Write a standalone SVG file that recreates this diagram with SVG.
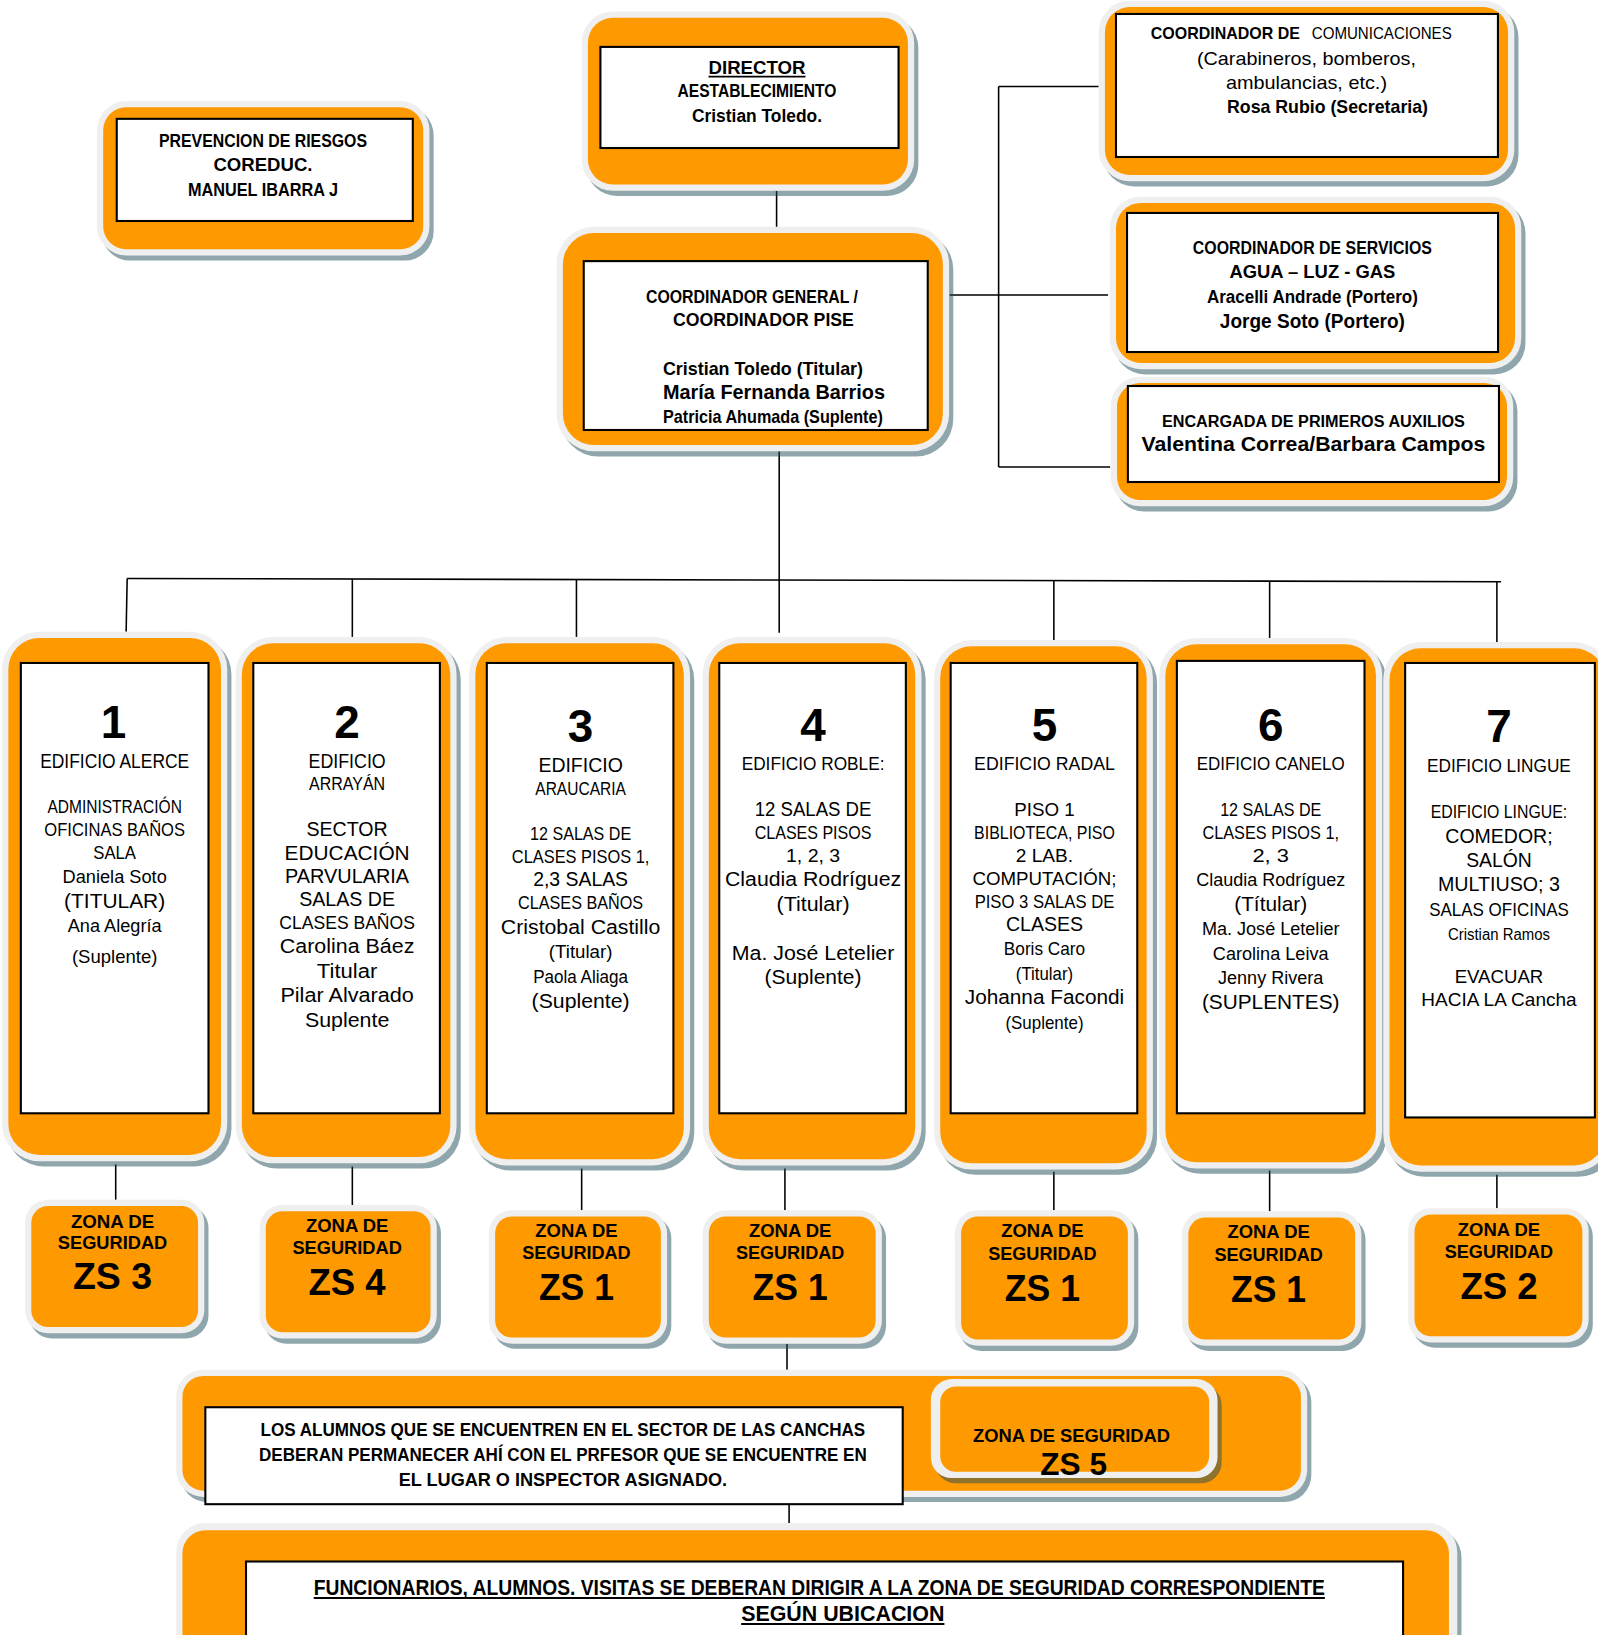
<svg xmlns="http://www.w3.org/2000/svg" width="1598" height="1635" viewBox="0 0 1598 1635">
<defs>
<style>
.sh{fill:#1f4e5a;opacity:.5}
.rim{fill:#efefef}
.or{fill:#ff9900}
.wb{fill:#fff;stroke:#000;stroke-width:2}
.ln{stroke:#000;stroke-width:1.5;fill:none}
.ul{stroke:#000;stroke-width:1.8}
text{font-family:"Liberation Sans",Arial,sans-serif;fill:#000}
.b{font-weight:bold}
.c{text-anchor:middle}
.num{font-weight:bold;font-size:44px;text-anchor:middle}
.zs1{font-weight:bold;font-size:18px;text-anchor:middle}
.zs2{font-weight:bold;font-size:36px;text-anchor:middle}
</style>
</defs>
<rect width="1598" height="1635" fill="#fff"/>
<g transform="scale(1.0424)">
<g id="connectors">
<path class="ln" d="M745 183V224"/>
<path class="ln" d="M747.5 433V607"/>
<path class="ln" d="M911 283H1063"/>
<path class="ln" d="M958 83V448"/>
<path class="ln" d="M958 83H1054"/>
<path class="ln" d="M958 448H1065"/>
<path class="ln" d="M122 555L1440 558"/>
<path class="ln" d="M122 555L121 606"/>
<path class="ln" d="M338 555.5V611"/>
<path class="ln" d="M553 556V611"/>
<path class="ln" d="M1011 557V614"/>
<path class="ln" d="M1218 557.5V613"/>
<path class="ln" d="M1436 558V616"/>
<path class="ln" d="M111 1117V1151"/>
<path class="ln" d="M338 1119V1156"/>
<path class="ln" d="M558 1121V1161"/>
<path class="ln" d="M753 1121V1161"/>
<path class="ln" d="M1011 1124V1161"/>
<path class="ln" d="M1218 1123V1162"/>
<path class="ln" d="M1436 1127V1159"/>
<path class="ln" d="M755 1289V1314"/>
<path class="ln" d="M757 1443V1468"/>
</g>

<g id="prevencion">
<rect class="sh" x="97" y="102" width="319" height="148" rx="28"/>
<rect class="rim" x="93" y="97" width="319" height="148" rx="28"/>
<rect class="or" x="99" y="103" width="307" height="136" rx="22"/>
<rect class="wb" x="112" y="114" width="284" height="98"/>
<text class="b c" x="252.3" y="141" font-size="17" textLength="199.5" lengthAdjust="spacingAndGlyphs">PREVENCION DE RIESGOS</text>
<text class="b c" x="252.3" y="164" font-size="17" textLength="95" lengthAdjust="spacingAndGlyphs">COREDUC.</text>
<text class="b c" x="252.3" y="188" font-size="17" textLength="143.9" lengthAdjust="spacingAndGlyphs">MANUEL IBARRA J</text>
</g>

<g id="director">
<rect class="sh" x="562" y="16" width="319" height="172" rx="30"/>
<rect class="rim" x="558" y="11" width="319" height="172" rx="30"/>
<rect class="or" x="564" y="17" width="307" height="160" rx="24"/>
<rect class="wb" x="576" y="45" width="286" height="97"/>
<text class="b c" x="726.2" y="71" font-size="18" textLength="93" lengthAdjust="spacingAndGlyphs">DIRECTOR</text>
<line class="ul" x1="679.7" y1="73.5" x2="772.7" y2="73.5"/>
<text class="b c" x="726.2" y="93" font-size="18" textLength="152.5" lengthAdjust="spacingAndGlyphs">AESTABLECIMIENTO</text>
<text class="b c" x="726.2" y="117" font-size="18" textLength="124.7" lengthAdjust="spacingAndGlyphs">Cristian Toledo.</text>
</g>

<g id="coordinador-general">
<rect class="sh" x="538" y="222.5" width="376.5" height="215.5" rx="36"/>
<rect class="rim" x="534" y="217.5" width="376.5" height="215.5" rx="36"/>
<rect class="or" x="540" y="223.5" width="364.5" height="203.5" rx="30"/>
<rect class="wb" x="560" y="250.5" width="330" height="162"/>
<text class="b" x="619.7" y="290.7" font-size="18.5" textLength="203.4" lengthAdjust="spacingAndGlyphs">COORDINADOR GENERAL /</text>
<text class="b" x="645.6" y="312.7" font-size="18.5" textLength="173.6" lengthAdjust="spacingAndGlyphs">COORDINADOR PISE</text>
<text class="b" x="636" y="359.7" font-size="18.5" textLength="191.9" lengthAdjust="spacingAndGlyphs">Cristian Toledo (Titular)</text>
<text class="b" x="636" y="382.8" font-size="19.5" textLength="213" lengthAdjust="spacingAndGlyphs">María Fernanda Barrios</text>
<text class="b" x="636" y="405.8" font-size="17" textLength="211" lengthAdjust="spacingAndGlyphs">Patricia Ahumada  (Suplente)</text>
</g>

<g id="comunicaciones">
<rect class="sh" x="1058" y="5.7" width="398.7" height="173.2" rx="30"/>
<rect class="rim" x="1054" y="0.7" width="398.7" height="173.2" rx="30"/>
<rect class="or" x="1060" y="6.7" width="386.7" height="161.2" rx="24"/>
<rect class="wb" x="1070.6" y="13.4" width="366.4" height="137.2"/>
<text class="b" x="1104" y="37.4" font-size="16" textLength="143.1" lengthAdjust="spacingAndGlyphs">COORDINADOR DE</text>
<text x="1258.4" y="37.4" font-size="16" textLength="134.3" lengthAdjust="spacingAndGlyphs">COMUNICACIONES</text>
<text x="1148.3" y="62.4" font-size="17" textLength="210" lengthAdjust="spacingAndGlyphs">(Carabineros, bomberos,</text>
<text x="1176.1" y="85.4" font-size="17" textLength="154.5" lengthAdjust="spacingAndGlyphs">ambulancias, etc.)</text>
<text class="b" x="1177.1" y="108.4" font-size="17" textLength="192.8" lengthAdjust="spacingAndGlyphs">Rosa Rubio (Secretaria)</text>
</g>

<g id="servicios">
<rect class="sh" x="1068.6" y="193.7" width="394.8" height="165.5" rx="30"/>
<rect class="rim" x="1064.6" y="188.7" width="394.8" height="165.5" rx="30"/>
<rect class="or" x="1070.6" y="194.7" width="382.8" height="153.5" rx="24"/>
<rect class="wb" x="1081.2" y="204.3" width="355.9" height="133.4"/>
<text class="b c" x="1259" y="243.7" font-size="17" textLength="229.3" lengthAdjust="spacingAndGlyphs">COORDINADOR DE SERVICIOS</text>
<text class="b c" x="1259" y="266.7" font-size="18.5" textLength="159.2" lengthAdjust="spacingAndGlyphs">AGUA – LUZ - GAS</text>
<text class="b c" x="1259" y="290.7" font-size="18" textLength="202.4" lengthAdjust="spacingAndGlyphs">Aracelli Andrade (Portero)</text>
<text class="b c" x="1259" y="314.7" font-size="19" textLength="177.5" lengthAdjust="spacingAndGlyphs">Jorge Soto (Portero)</text>
</g>

<g id="primeros-auxilios">
<rect class="sh" x="1069.6" y="366.4" width="386.1" height="124.3" rx="28"/>
<rect class="rim" x="1065.6" y="361.4" width="386.1" height="124.3" rx="28"/>
<rect class="or" x="1071.6" y="367.4" width="374.1" height="112.3" rx="22"/>
<rect class="wb" x="1082" y="370.3" width="356" height="92.1"/>
<text class="b c" x="1260" y="409.6" font-size="16.5" textLength="290.7" lengthAdjust="spacingAndGlyphs">ENCARGADA DE PRIMEROS AUXILIOS</text>
<text class="b c" x="1260" y="432.7" font-size="19" textLength="330" lengthAdjust="spacingAndGlyphs">Valentina Correa/Barbara Campos</text>
</g>

<g id="edificio-1">
<rect class="sh" x="6" y="611" width="216" height="508" rx="36"/>
<rect class="rim" x="2" y="606" width="216" height="508" rx="36"/>
<rect class="or" x="8" y="612" width="204" height="496" rx="30"/>
<rect class="wb" x="20" y="636" width="180" height="432"/>
<text class="num" x="109" y="708">1</text>
<text class="c" x="110" y="737" font-size="19" textLength="143" lengthAdjust="spacingAndGlyphs">EDIFICIO ALERCE</text>
<text class="c" x="110" y="780" font-size="17" textLength="129" lengthAdjust="spacingAndGlyphs">ADMINISTRACIÓN</text>
<text class="c" x="110" y="802" font-size="17" textLength="135" lengthAdjust="spacingAndGlyphs">OFICINAS BAÑOS</text>
<text class="c" x="110" y="824" font-size="17" textLength="41" lengthAdjust="spacingAndGlyphs">SALA</text>
<text class="c" x="110" y="847" font-size="18" textLength="100" lengthAdjust="spacingAndGlyphs">Daniela Soto</text>
<text class="c" x="110" y="871" font-size="20" textLength="97" lengthAdjust="spacingAndGlyphs">(TITULAR)</text>
<text class="c" x="110" y="894" font-size="18" textLength="90" lengthAdjust="spacingAndGlyphs">Ana Alegría</text>
<text class="c" x="110" y="924" font-size="17" textLength="82" lengthAdjust="spacingAndGlyphs">(Suplente)</text>
</g>

<g id="edificio-2">
<rect class="sh" x="230" y="616" width="212" height="505" rx="36"/>
<rect class="rim" x="226" y="611" width="212" height="505" rx="36"/>
<rect class="or" x="232" y="617" width="200" height="493" rx="30"/>
<rect class="wb" x="243" y="636" width="179" height="432"/>
<text class="num" x="333" y="708">2</text>
<text class="c" x="333" y="737" font-size="19" textLength="74" lengthAdjust="spacingAndGlyphs">EDIFICIO</text>
<text class="c" x="333" y="758" font-size="17" textLength="73" lengthAdjust="spacingAndGlyphs">ARRAYÁN</text>
<text class="c" x="333" y="802" font-size="19" textLength="78" lengthAdjust="spacingAndGlyphs">SECTOR</text>
<text class="c" x="333" y="825" font-size="19" textLength="120" lengthAdjust="spacingAndGlyphs">EDUCACIÓN</text>
<text class="c" x="333" y="847" font-size="19" textLength="119" lengthAdjust="spacingAndGlyphs">PARVULARIA</text>
<text class="c" x="333" y="869" font-size="19" textLength="92" lengthAdjust="spacingAndGlyphs">SALAS DE</text>
<text class="c" x="333" y="891" font-size="17" textLength="130" lengthAdjust="spacingAndGlyphs">CLASES BAÑOS</text>
<text class="c" x="333" y="914" font-size="19" textLength="129" lengthAdjust="spacingAndGlyphs">Carolina Báez</text>
<text class="c" x="333" y="938" font-size="19" textLength="58" lengthAdjust="spacingAndGlyphs">Titular</text>
<text class="c" x="333" y="961" font-size="19" textLength="128" lengthAdjust="spacingAndGlyphs">Pilar Alvarado</text>
<text class="c" x="333" y="985" font-size="19" textLength="81" lengthAdjust="spacingAndGlyphs">Suplente</text>
</g>

<g id="edificio-3">
<rect class="sh" x="454" y="616" width="212" height="507" rx="36"/>
<rect class="rim" x="450" y="611" width="212" height="507" rx="36"/>
<rect class="or" x="456" y="617" width="200" height="495" rx="30"/>
<rect class="wb" x="467" y="636" width="179" height="432"/>
<text class="num" x="557" y="712">3</text>
<text class="c" x="557" y="741" font-size="19" textLength="81" lengthAdjust="spacingAndGlyphs">EDIFICIO</text>
<text class="c" x="557" y="763" font-size="17" textLength="87" lengthAdjust="spacingAndGlyphs">ARAUCARIA</text>
<text class="c" x="557" y="806" font-size="17" textLength="97" lengthAdjust="spacingAndGlyphs">12 SALAS DE</text>
<text class="c" x="557" y="828" font-size="17" textLength="132" lengthAdjust="spacingAndGlyphs">CLASES PISOS 1,</text>
<text class="c" x="557" y="850" font-size="19" textLength="91" lengthAdjust="spacingAndGlyphs">2,3 SALAS</text>
<text class="c" x="557" y="872" font-size="17" textLength="120" lengthAdjust="spacingAndGlyphs">CLASES BAÑOS</text>
<text class="c" x="557" y="896" font-size="19" textLength="153" lengthAdjust="spacingAndGlyphs">Cristobal Castillo</text>
<text class="c" x="557" y="919" font-size="18" textLength="61" lengthAdjust="spacingAndGlyphs">(Titular)</text>
<text class="c" x="557" y="943" font-size="18" textLength="91" lengthAdjust="spacingAndGlyphs">Paola Aliaga</text>
<text class="c" x="557" y="967" font-size="19" textLength="94" lengthAdjust="spacingAndGlyphs">(Suplente)</text>
</g>

<g id="edificio-4">
<rect class="sh" x="678" y="616" width="210" height="507" rx="36"/>
<rect class="rim" x="674" y="611" width="210" height="507" rx="36"/>
<rect class="or" x="680" y="617" width="198" height="495" rx="30"/>
<rect class="wb" x="690" y="636" width="179" height="432"/>
<text class="num" x="780" y="711">4</text>
<text class="c" x="780" y="739" font-size="17" textLength="137" lengthAdjust="spacingAndGlyphs">EDIFICIO ROBLE:</text>
<text class="c" x="780" y="783" font-size="19" textLength="112" lengthAdjust="spacingAndGlyphs">12 SALAS DE</text>
<text class="c" x="780" y="805" font-size="17" textLength="112" lengthAdjust="spacingAndGlyphs">CLASES PISOS</text>
<text class="c" x="780" y="827" font-size="18" textLength="52" lengthAdjust="spacingAndGlyphs">1, 2, 3</text>
<text class="c" x="780" y="850" font-size="19" textLength="169" lengthAdjust="spacingAndGlyphs">Claudia Rodríguez</text>
<text class="c" x="780" y="874" font-size="19" textLength="70" lengthAdjust="spacingAndGlyphs">(Titular)</text>
<text class="c" x="780" y="921" font-size="19" textLength="156" lengthAdjust="spacingAndGlyphs">Ma. José Letelier</text>
<text class="c" x="780" y="944" font-size="19" textLength="93" lengthAdjust="spacingAndGlyphs">(Suplente)</text>
</g>

<g id="edificio-5">
<rect class="sh" x="900" y="619" width="210" height="508" rx="36"/>
<rect class="rim" x="896" y="614" width="210" height="508" rx="36"/>
<rect class="or" x="902" y="620" width="198" height="496" rx="30"/>
<rect class="wb" x="912" y="636" width="179" height="432"/>
<text class="num" x="1002" y="711">5</text>
<text class="c" x="1002" y="739" font-size="17" textLength="135" lengthAdjust="spacingAndGlyphs">EDIFICIO RADAL</text>
<text class="c" x="1002" y="783" font-size="18" textLength="58" lengthAdjust="spacingAndGlyphs">PISO 1</text>
<text class="c" x="1002" y="805" font-size="17" textLength="135" lengthAdjust="spacingAndGlyphs">BIBLIOTECA, PISO</text>
<text class="c" x="1002" y="827" font-size="18" textLength="55" lengthAdjust="spacingAndGlyphs">2 LAB.</text>
<text class="c" x="1002" y="849" font-size="18" textLength="138" lengthAdjust="spacingAndGlyphs">COMPUTACIÓN;</text>
<text class="c" x="1002" y="871" font-size="17" textLength="134" lengthAdjust="spacingAndGlyphs">PISO 3 SALAS DE</text>
<text class="c" x="1002" y="893" font-size="19" textLength="74" lengthAdjust="spacingAndGlyphs">CLASES</text>
<text class="c" x="1002" y="916" font-size="17" textLength="78" lengthAdjust="spacingAndGlyphs">Boris Caro</text>
<text class="c" x="1002" y="940" font-size="17" textLength="55" lengthAdjust="spacingAndGlyphs">(Titular)</text>
<text class="c" x="1002" y="963" font-size="19" textLength="153" lengthAdjust="spacingAndGlyphs">Johanna Facondi</text>
<text class="c" x="1002" y="987" font-size="17" textLength="75" lengthAdjust="spacingAndGlyphs">(Suplente)</text>
</g>

<g id="edificio-6">
<rect class="sh" x="1116" y="617" width="214" height="509" rx="36"/>
<rect class="rim" x="1112" y="612" width="214" height="509" rx="36"/>
<rect class="or" x="1118" y="618" width="202" height="497" rx="30"/>
<rect class="wb" x="1129" y="634" width="180" height="434"/>
<text class="num" x="1219" y="711">6</text>
<text class="c" x="1219" y="739" font-size="17" textLength="142" lengthAdjust="spacingAndGlyphs">EDIFICIO CANELO</text>
<text class="c" x="1219" y="783" font-size="17" textLength="97" lengthAdjust="spacingAndGlyphs">12 SALAS DE</text>
<text class="c" x="1219" y="805" font-size="17" textLength="131" lengthAdjust="spacingAndGlyphs">CLASES PISOS 1,</text>
<text class="c" x="1219" y="827" font-size="17" textLength="35" lengthAdjust="spacingAndGlyphs">2, 3</text>
<text class="c" x="1219" y="850" font-size="18" textLength="143" lengthAdjust="spacingAndGlyphs">Claudia Rodríguez</text>
<text class="c" x="1219" y="874" font-size="20" textLength="70" lengthAdjust="spacingAndGlyphs">(Títular)</text>
<text class="c" x="1219" y="897" font-size="18" textLength="132" lengthAdjust="spacingAndGlyphs">Ma. José Letelier</text>
<text class="c" x="1219" y="921" font-size="18" textLength="111" lengthAdjust="spacingAndGlyphs">Carolina Leiva</text>
<text class="c" x="1219" y="944" font-size="18" textLength="101" lengthAdjust="spacingAndGlyphs">Jenny Rivera</text>
<text class="c" x="1219" y="968" font-size="20" textLength="132" lengthAdjust="spacingAndGlyphs">(SUPLENTES)</text>
</g>

<g id="edificio-7">
<rect class="sh" x="1331" y="621" width="219" height="508" rx="36"/>
<rect class="rim" x="1327" y="616" width="219" height="508" rx="36"/>
<rect class="or" x="1333" y="622" width="207" height="496" rx="30"/>
<rect class="wb" x="1348" y="636" width="182" height="436"/>
<text class="num" x="1438" y="712">7</text>
<text class="c" x="1438" y="741" font-size="17" textLength="138" lengthAdjust="spacingAndGlyphs">EDIFICIO LINGUE</text>
<text class="c" x="1438" y="785" font-size="17" textLength="131" lengthAdjust="spacingAndGlyphs">EDIFICIO LINGUE:</text>
<text class="c" x="1438" y="809" font-size="19" textLength="103" lengthAdjust="spacingAndGlyphs">COMEDOR;</text>
<text class="c" x="1438" y="832" font-size="19" textLength="63" lengthAdjust="spacingAndGlyphs">SALÓN</text>
<text class="c" x="1438" y="855" font-size="19" textLength="117" lengthAdjust="spacingAndGlyphs">MULTIUSO; 3</text>
<text class="c" x="1438" y="879" font-size="17" textLength="134" lengthAdjust="spacingAndGlyphs">SALAS OFICINAS</text>
<text class="c" x="1438" y="902" font-size="15" textLength="98" lengthAdjust="spacingAndGlyphs">Cristian Ramos</text>
<text class="c" x="1438" y="943" font-size="17" textLength="85" lengthAdjust="spacingAndGlyphs">EVACUAR</text>
<text class="c" x="1438" y="965" font-size="17" textLength="149" lengthAdjust="spacingAndGlyphs">HACIA LA Cancha</text>
</g>

<g id="zs3">
<rect class="sh" x="28" y="1156" width="172" height="128" rx="22"/>
<rect class="rim" x="24" y="1151" width="172" height="128" rx="22"/>
<rect class="or" x="30" y="1157" width="160" height="116" rx="16"/>
<text class="zs1" x="108" y="1178" textLength="80" lengthAdjust="spacingAndGlyphs">ZONA DE</text>
<text class="zs1" x="108" y="1198" textLength="105" lengthAdjust="spacingAndGlyphs">SEGURIDAD</text>
<text class="zs2" x="108" y="1237" textLength="76" lengthAdjust="spacingAndGlyphs">ZS 3</text>
</g>
<g id="zs4">
<rect class="sh" x="253" y="1161" width="170" height="128" rx="22"/>
<rect class="rim" x="249" y="1156" width="170" height="128" rx="22"/>
<rect class="or" x="255" y="1162" width="158" height="116" rx="16"/>
<text class="zs1" x="333" y="1182" textLength="79" lengthAdjust="spacingAndGlyphs">ZONA DE</text>
<text class="zs1" x="333" y="1203" textLength="105" lengthAdjust="spacingAndGlyphs">SEGURIDAD</text>
<text class="zs2" x="333" y="1242" textLength="74" lengthAdjust="spacingAndGlyphs">ZS 4</text>
</g>
<g id="zs1-a">
<rect class="sh" x="473" y="1166" width="171" height="128" rx="22"/>
<rect class="rim" x="469" y="1161" width="171" height="128" rx="22"/>
<rect class="or" x="475" y="1167" width="159" height="116" rx="16"/>
<text class="zs1" x="553" y="1187" textLength="79" lengthAdjust="spacingAndGlyphs">ZONA DE</text>
<text class="zs1" x="553" y="1208" textLength="104" lengthAdjust="spacingAndGlyphs">SEGURIDAD</text>
<text class="zs2" x="553" y="1247" textLength="72" lengthAdjust="spacingAndGlyphs">ZS 1</text>
</g>
<g id="zs1-b">
<rect class="sh" x="678" y="1166" width="172" height="128" rx="22"/>
<rect class="rim" x="674" y="1161" width="172" height="128" rx="22"/>
<rect class="or" x="680" y="1167" width="160" height="116" rx="16"/>
<text class="zs1" x="758" y="1187" textLength="79" lengthAdjust="spacingAndGlyphs">ZONA DE</text>
<text class="zs1" x="758" y="1208" textLength="104" lengthAdjust="spacingAndGlyphs">SEGURIDAD</text>
<text class="zs2" x="758" y="1247" textLength="72" lengthAdjust="spacingAndGlyphs">ZS 1</text>
</g>
<g id="zs1-c">
<rect class="sh" x="920" y="1166" width="172" height="130" rx="22"/>
<rect class="rim" x="916" y="1161" width="172" height="130" rx="22"/>
<rect class="or" x="922" y="1167" width="160" height="118" rx="16"/>
<text class="zs1" x="1000" y="1187" textLength="79" lengthAdjust="spacingAndGlyphs">ZONA DE</text>
<text class="zs1" x="1000" y="1209" textLength="104" lengthAdjust="spacingAndGlyphs">SEGURIDAD</text>
<text class="zs2" x="1000" y="1248" textLength="72" lengthAdjust="spacingAndGlyphs">ZS 1</text>
</g>
<g id="zs1-d">
<rect class="sh" x="1138" y="1167" width="172" height="129" rx="22"/>
<rect class="rim" x="1134" y="1162" width="172" height="129" rx="22"/>
<rect class="or" x="1140" y="1168" width="160" height="117" rx="16"/>
<text class="zs1" x="1217" y="1188" textLength="79" lengthAdjust="spacingAndGlyphs">ZONA DE</text>
<text class="zs1" x="1217" y="1210" textLength="104" lengthAdjust="spacingAndGlyphs">SEGURIDAD</text>
<text class="zs2" x="1217" y="1249" textLength="72" lengthAdjust="spacingAndGlyphs">ZS 1</text>
</g>
<g id="zs2">
<rect class="sh" x="1355" y="1164" width="173" height="129" rx="22"/>
<rect class="rim" x="1351" y="1159" width="173" height="129" rx="22"/>
<rect class="or" x="1357" y="1165" width="161" height="117" rx="16"/>
<text class="zs1" x="1438" y="1186" textLength="79" lengthAdjust="spacingAndGlyphs">ZONA DE</text>
<text class="zs1" x="1438" y="1207" textLength="104" lengthAdjust="spacingAndGlyphs">SEGURIDAD</text>
<text class="zs2" x="1438" y="1246" textLength="74" lengthAdjust="spacingAndGlyphs">ZS 2</text>
</g>

<g id="canchas">
<rect class="sh" x="173" y="1319" width="1085" height="122" rx="26"/>
<rect class="rim" x="169" y="1314" width="1085" height="122" rx="26"/>
<rect class="or" x="175" y="1320" width="1073" height="110" rx="20"/>
<rect class="wb" x="197" y="1350" width="669" height="93"/>
<text class="b c" x="540" y="1378" font-size="17" textLength="580" lengthAdjust="spacingAndGlyphs">LOS ALUMNOS QUE SE ENCUENTREN EN EL SECTOR DE LAS CANCHAS</text>
<text class="b c" x="540" y="1402" font-size="17" textLength="583" lengthAdjust="spacingAndGlyphs">DEBERAN PERMANECER AHÍ CON EL PRFESOR QUE SE ENCUENTRE EN</text>
<text class="b c" x="540" y="1426" font-size="17" textLength="315" lengthAdjust="spacingAndGlyphs">EL LUGAR O INSPECTOR ASIGNADO.</text>
</g>
<g id="zs5">
<rect class="sh" x="897" y="1328" width="275" height="95" rx="20"/>
<rect class="rim" x="893" y="1323" width="275" height="95" rx="20"/>
<rect class="or" x="902" y="1330" width="258" height="82" rx="15"/>
<text class="b c" x="1028" y="1383" font-size="18" textLength="189" lengthAdjust="spacingAndGlyphs">ZONA DE SEGURIDAD</text>
<text class="b c" x="1030" y="1415" font-size="30" textLength="64" lengthAdjust="spacingAndGlyphs">ZS 5</text>
</g>

<g id="funcionarios">
<rect class="sh" x="173" y="1466" width="1229" height="140" rx="28"/>
<rect class="rim" x="169" y="1461" width="1229" height="140" rx="28"/>
<rect class="or" x="175" y="1468" width="1215" height="130" rx="22"/>
<rect class="wb" x="236" y="1498" width="1110" height="100"/>
<text class="b c" x="786" y="1530" font-size="21" textLength="970" lengthAdjust="spacingAndGlyphs">FUNCIONARIOS, ALUMNOS. VISITAS SE DEBERAN DIRIGIR A LA ZONA DE SEGURIDAD CORRESPONDIENTE</text>
<line class="ul" x1="301" y1="1533" x2="1271" y2="1533"/>
<text class="b c" x="808.5" y="1555" font-size="21" textLength="195" lengthAdjust="spacingAndGlyphs">SEGÚN UBICACION</text>
<line class="ul" x1="711" y1="1558" x2="906" y2="1558"/>
</g>
</g>
</svg>
